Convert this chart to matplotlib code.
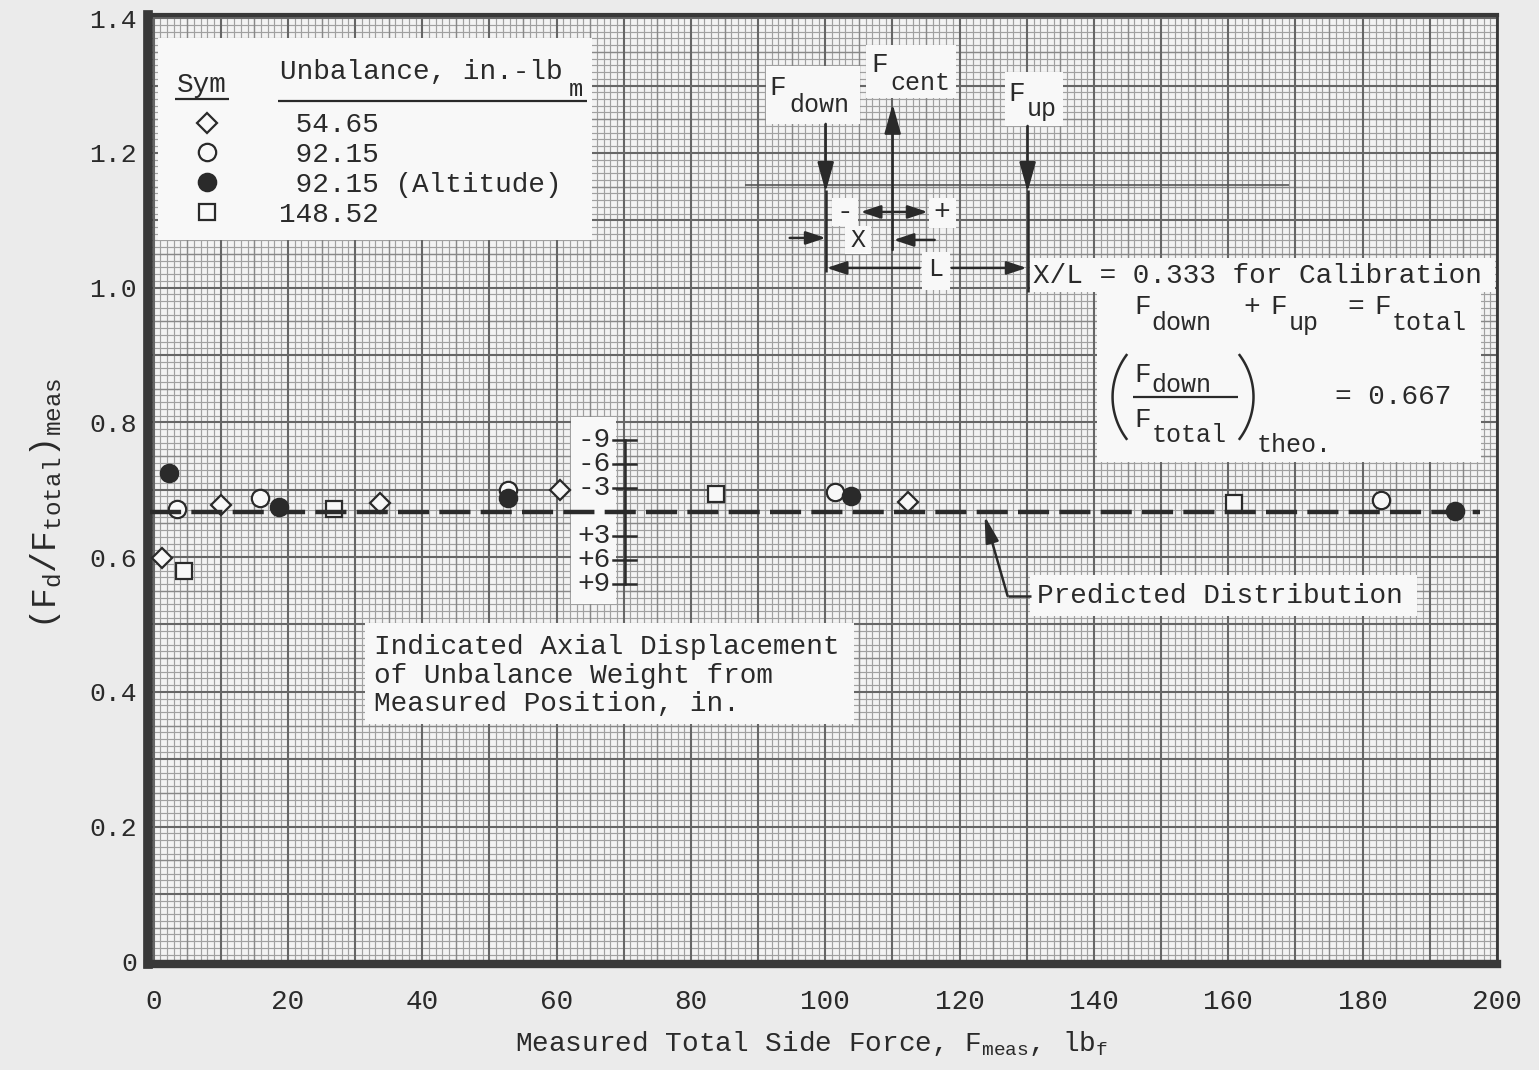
import numpy as np
import matplotlib
matplotlib.use("Agg")
import matplotlib.pyplot as plt
from matplotlib.patches import Rectangle

# ---------------- data ----------------
sym_labels = [" 54.65", " 92.15", " 92.15 (Altitude)", "148.52"]

diamond_x = [1.3, 10.0, 33.7, 60.5, 112.3]
diamond_y = [0.599, 0.678, 0.681, 0.699, 0.682]

open_x = [3.5, 15.9, 52.7, 101.5, 182.8]
open_y = [0.671, 0.688, 0.699, 0.696, 0.685]

alt_x = [2.3, 18.6, 52.8, 103.8, 193.7]
alt_y = [0.725, 0.675, 0.688, 0.691, 0.668]

square_x = [4.5, 26.8, 83.7, 160.8]
square_y = [0.580, 0.672, 0.694, 0.680]

predicted_ratio = 0.667
predicted_span = [-0.5, 197.5]

x_ticks = [0, 20, 40, 60, 80, 100, 120, 140, 160, 180, 200]
y_ticks = [0, 0.2, 0.4, 0.6, 0.8, 1.0, 1.2, 1.4]
y_tick_labels = ["0", "0.2", "0.4", "0.6", "0.8", "1.0", "1.2", "1.4"]

disp_ticks = [-9, -6, -3, 3, 6, 9]
disp_labels = ["-9", "-6", "-3", "+3", "+6", "+9"]
disp_scale = 0.01188  # ratio units per inch of displacement

# ---------------- style ----------------
plt.rcParams['font.family'] = ['Liberation Mono', 'DejaVu Sans']
plt.rcParams['mathtext.fontset'] = 'custom'
plt.rcParams['mathtext.rm'] = 'Liberation Mono'
plt.rcParams['mathtext.it'] = 'Liberation Mono'
plt.rcParams['mathtext.bf'] = 'Liberation Mono:bold'

ink = '#2a2a2a'
paper = '#f3f3f3'
boxwhite = '#f8f8f8'
FS = 20

W, H = 1539, 1070
fig = plt.figure(figsize=(W / 100, H / 100), dpi=100, facecolor='#ebebeb')
ax = fig.add_axes([148 / W, 1 - 964 / H, (1497 - 148) / W, (964 - 15) / H])
ax.set_facecolor(paper)
ax.set_xlim(-0.83, 199.9)
ax.set_ylim(-0.004, 1.4047)

# reference-pixel -> data helper for annotation layout
X0, SX = 153.6, 6.72
Y0, SY = 961.3, 673.6


def P(px, py):
    return ((px - X0) / SX, (Y0 - py) / SY)


# ---------------- graph paper ----------------
xt = ax.get_xaxis_transform()
yt = ax.get_yaxis_transform()
gx = np.arange(0, 201)
gy = np.arange(0, 141)
for cls, col, lw in [(1, '#a0a0a0', 0.85), (5, '#888888', 1.05), (10, '#666666', 1.5)]:
    if cls == 1:
        mx = gx[(gx % 5) != 0]
        my = gy[(gy % 5) != 0]
    elif cls == 5:
        mx = gx[((gx % 5) == 0) & ((gx % 10) != 0)]
        my = gy[((gy % 5) == 0) & ((gy % 10) != 0)]
    else:
        mx = gx[(gx % 10) == 0]
        my = gy[(gy % 10) == 0]
    ax.vlines(mx, 0, 1, transform=xt, colors=col, lw=lw, zorder=0.5)
    ax.hlines(my / 100.0, 0, 1, transform=yt, colors=col, lw=lw, zorder=0.5)

for side, lw in [('left', 7), ('bottom', 6), ('top', 3), ('right', 2)]:
    ax.spines[side].set_linewidth(lw)
    ax.spines[side].set_color('#383838')

ax.set_xticks(x_ticks)
ax.set_xticklabels([str(v) for v in x_ticks])
ax.set_yticks(y_ticks)
ax.set_yticklabels(y_tick_labels)
ax.tick_params(axis='x', length=0, pad=18, labelsize=FS, labelcolor=ink)
ax.tick_params(axis='y', length=0, pad=8, labelsize=19, labelcolor=ink)

ax.set_xlabel(r"Measured Total Side Force, F$_{\mathrm{meas}}$, lb$_{\mathrm{f}}$",
              fontsize=FS, color=ink)
ax.xaxis.set_label_coords(0.492, -0.068)
ax.set_ylabel(r"$\left(\mathrm{F_d/F_{total}}\right)_{\mathrm{meas}}$", fontsize=25, color=ink)
ax.yaxis.set_label_coords(-0.062, 0.485)

# ---------------- helpers ----------------
def box(px0, py0, px1, py1):
    xa, ya = P(px0, py1)
    xb, yb = P(px1, py0)
    ax.add_patch(Rectangle((xa, ya), xb - xa, yb - ya, facecolor=boxwhite,
                           edgecolor='none', zorder=3))


def txt(px, py, s, ha='left', va='center', size=FS, **kw):
    x, y = P(px, py)
    ax.text(x, y, s, ha=ha, va=va, fontsize=size, color=ink, zorder=6, **kw)


def line(p0, p1, lw=1.8, color=ink, **kw):
    a, b = P(*p0), P(*p1)
    ax.plot([a[0], b[0]], [a[1], b[1]], color=color, lw=lw, zorder=5,
            solid_capstyle='butt', **kw)


def arrow(p0, p1, hl=0.9, hw=0.25, lw=1.8):
    ax.annotate('', xy=P(*p1), xytext=P(*p0),
                arrowprops=dict(arrowstyle=f'-|>,head_length={hl},head_width={hw}',
                                color=ink, lw=lw, shrinkA=0, shrinkB=0,
                                mutation_scale=20), zorder=5)


def paren(px_edge, py_c, side, rx=77, ry=73, half=35):
    t = np.radians(np.linspace(-half, half, 40))
    if side == 'left':
        cx = px_edge + rx
        pxs = cx - rx * np.cos(t)
    else:
        cx = px_edge - rx
        pxs = cx + rx * np.cos(t)
    pys = py_c + ry * np.sin(t)
    pts = [P(a, b) for a, b in zip(pxs, pys)]
    ax.plot([p[0] for p in pts], [p[1] for p in pts], color=ink, lw=1.8, zorder=6)


# ---------------- data series ----------------
mk_common = dict(ls='none', mec=ink, mew=1.6, zorder=4)
h_d, = ax.plot(diamond_x, diamond_y, marker='D', ms=10.5, mfc=boxwhite, **mk_common)
h_o, = ax.plot(open_x, open_y, marker='o', ms=12.5, mfc=boxwhite, **mk_common)
h_a, = ax.plot(alt_x, alt_y, marker='o', ms=12.5, mfc=ink, **mk_common)
h_s, = ax.plot(square_x, square_y, marker='s', ms=11, mfc=boxwhite, **mk_common)

ax.plot(predicted_span, [predicted_ratio] * 2, color=ink, lw=3.2,
        dashes=(7, 2.3), zorder=4)

# ---------------- legend ----------------
box(158, 38, 592, 240)
leg = ax.legend([h_d, h_o, h_a, h_s], sym_labels, loc='upper left',
                bbox_to_anchor=(0.0335, 0.8975), frameon=False, borderpad=0,
                handlelength=1.0, handletextpad=2.1, labelspacing=0.135,
                fontsize=FS, borderaxespad=0)
for t in leg.get_texts():
    t.set_color(ink)
leg.set_zorder(7)
txt(177, 85, "Sym")
line((175, 99), (229, 99), lw=1.6)
txt(280, 72, "Unbalance, in.-lb")
txt(569, 90, "m", size=17)
line((278, 101), (587, 101), lw=1.6)

# ---------------- force diagram ----------------
line((745, 185), (1290, 185), lw=1.2, color='#555555')
# F down
box(766, 66, 860, 124)
txt(770, 95, "F", va='baseline')
txt(790, 112, "down", va='baseline', size=18)
arrow((826, 124), (826, 192))
line((826, 190), (826, 272))
# F cent
box(866, 45, 956, 98)
txt(872, 72, "F", va='baseline')
txt(891, 90, "cent", va='baseline', size=18)
arrow((893, 250), (893, 104))
# F up
box(1005, 72, 1063, 126)
txt(1009, 101, "F", va='baseline')
txt(1027, 116, "up", va='baseline', size=18)
arrow((1028, 126), (1028, 192))
line((1028, 190), (1028, 292))
# +/- and X, L dimensions
box(832, 198, 858, 226)
txt(845, 212, "-", ha='center')
box(929, 198, 956, 228)
txt(942, 212, "+", ha='center')
ax.annotate('', xy=P(928, 212), xytext=P(861, 212),
            arrowprops=dict(arrowstyle='<|-|>,head_length=0.6,head_width=0.2',
                            color=ink, lw=1.8, shrinkA=0, shrinkB=0,
                            mutation_scale=20), zorder=5)
box(845, 226, 871, 254)
txt(858, 240, "X", ha='center', size=18)
arrow((790, 238), (826, 238), hl=0.6, hw=0.2)
arrow((935, 240), (894, 240), hl=0.6, hw=0.2)
box(922, 252, 950, 290)
txt(936, 269, "L", ha='center', size=18)
arrow((920, 268), (827, 268), hl=0.6, hw=0.2)
arrow((952, 268), (1027, 268), hl=0.6, hw=0.2)

# X/L and formula boxes
box(1030, 258, 1496, 292)
txt(1033, 276, "X/L = 0.333 for Calibration")
box(1097, 290, 1482, 462)
txt(1135, 314, "F", va='baseline')
txt(1152, 330, "down", va='baseline', size=18)
txt(1244, 314, "+", va='baseline')
txt(1271, 314, "F", va='baseline')
txt(1289, 330, "up", va='baseline', size=18)
txt(1348, 314, "=", va='baseline')
txt(1375, 314, "F", va='baseline')
txt(1392, 330, "total", va='baseline', size=18)
# fraction
txt(1135, 382, "F", va='baseline')
txt(1152, 392, "down", va='baseline', size=18)
line((1133, 397), (1238, 397), lw=1.6)
txt(1135, 427, "F", va='baseline')
txt(1152, 442, "total", va='baseline', size=18)
txt(1257, 452, "theo.", va='baseline', size=18)
txt(1336, 397, "= 0.667")
paren(1113, 397, 'left')
paren(1254, 397, 'right')

# ---------------- displacement scale ----------------
box(571, 417, 616, 604)
sx, _ = P(625, 0)
tx0, _ = P(613, 0)
tx1, _ = P(636, 0)
ys = [predicted_ratio - d * disp_scale for d in disp_ticks]
ax.plot([sx, sx], [min(ys), max(ys)], color=ink, lw=1.8, zorder=5)
lx, _ = P(611, 0)
for yv, lab in zip(ys, disp_labels):
    ax.plot([tx0, tx1], [yv, yv], color=ink, lw=1.8, zorder=5)
    ax.text(lx, yv, lab, ha='right', va='center', fontsize=FS, color=ink, zorder=6)

box(365, 623, 854, 724)
txt(374, 647, "Indicated Axial Displacement")
txt(374, 676, "of Unbalance Weight from")
txt(374, 704, "Measured Position, in.")

# ---------------- predicted distribution label ----------------
box(1030, 575, 1418, 616)
txt(1037, 596, "Predicted Distribution")
line((1008, 596), (1031, 596))
arrow((1008, 596), (985, 516), hl=0.8, hw=0.2)

fig.savefig('out.png', dpi=100, facecolor=fig.get_facecolor())
